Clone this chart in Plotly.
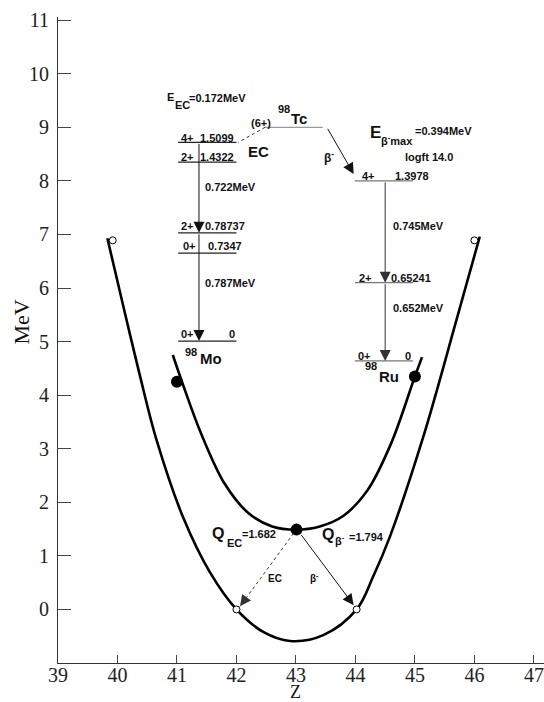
import plotly.graph_objects as go

# ---------------- data ----------------
x_ticks = [39, 40, 41, 42, 43, 44, 45, 46, 47]
y_ticks = [0, 1, 2, 3, 4, 5, 6, 7, 8, 9, 10, 11]

# upper (even-even) mass parabola
upper_x = [40.93, 41.10, 41.40, 41.80, 42.20, 42.60, 43.00, 43.40, 43.80, 44.20, 44.60, 45.00, 45.12]
upper_y = [4.75, 4.20, 3.30, 2.35, 1.80, 1.55, 1.49, 1.55, 1.75, 2.22, 3.10, 4.35, 4.71]
# lower parabola
lower_x = [39.83, 40.10, 40.38, 40.66, 41.11, 41.55, 42.00, 42.45, 42.90, 43.46, 44.02, 44.30, 44.58, 45.14, 45.70, 46.09]
lower_y = [6.93, 5.65, 4.35, 3.15, 1.70, 0.70, 0.00, -0.42, -0.59, -0.48, 0.00, 0.62, 1.36, 3.22, 5.41, 6.96]

# nuclei on the curves
filled_x = [41.0, 43.01, 45.0]
filled_y = [4.25, 1.49, 4.35]
open_x = [39.92, 42.0, 44.02, 46.0]
open_y = [6.89, 0.0, 0.0, 6.89]

# level scheme lines
mo_levels = [8.72, 8.35, 7.03, 6.65, 5.01]
mo_span = [41.02, 42.0]
tc_levels = [9.0]
tc_span = [42.48, 43.45]
ru_levels = [8.00, 6.10, 4.64]
ru_span = [43.99, 44.97]

# arrows: (tail_x, tail_y, tip_x, tip_y, dotted, color)
arrows = [
    (42.48, 9.00, 42.03, 8.72, True, "#333333"),
    (43.52, 9.00, 43.97, 8.13, False, "#111111"),
    (41.37, 8.72, 41.37, 7.03, False, "#111111"),
    (41.37, 7.03, 41.37, 5.01, False, "#111111"),
    (44.50, 8.00, 44.50, 6.10, False, "#333333"),
    (44.50, 6.10, 44.50, 4.64, False, "#333333"),
    (42.96, 1.42, 42.06, 0.06, True, "#333333"),
    (43.07, 1.42, 43.97, 0.08, False, "#111111"),
]

# texts: (x, y, text, size, xanchor)
texts = [
    (40.80, 9.57, "E", 11, "left"),
    (40.93, 9.42, "EC", 11, "left"),
    (41.17, 9.55, "=0.172MeV", 11, "left"),
    (42.61, 9.09, "(6+)", 11, "right"),
    (42.66, 9.34, "98", 11, "left"),
    (42.88, 9.16, "Tc", 15, "left"),
    (41.03, 8.81, "4+", 11, "left"),
    (41.35, 8.81, "1.5099", 11, "left"),
    (41.03, 8.45, "2+", 11, "left"),
    (41.35, 8.45, "1.4322", 11, "left"),
    (42.37, 8.54, "EC", 15, "center"),
    (41.44, 7.88, "0.722MeV", 11, "left"),
    (41.03, 7.15, "2+", 11, "left"),
    (41.44, 7.15, "0.78737", 11, "left"),
    (41.07, 6.78, "0+", 11, "left"),
    (41.49, 6.78, "0.7347", 11, "left"),
    (41.44, 6.10, "0.787MeV", 11, "left"),
    (41.03, 5.14, "0+", 11, "left"),
    (41.92, 5.14, "0", 11, "center"),
    (41.10, 4.81, "98", 11, "left"),
    (41.35, 4.68, "Mo", 15, "left"),
    (43.55, 8.45, "β<sup>-</sup>", 12, "center"),
    (44.21, 8.91, "E", 17, "left"),
    (44.40, 8.76, "β<sup>-</sup>max", 11, "left"),
    (44.97, 8.93, "=0.394MeV", 11, "left"),
    (45.24, 8.45, "logft 14.0", 11, "center"),
    (44.08, 8.10, "4+", 11, "left"),
    (44.63, 8.10, "1.3978", 11, "left"),
    (44.60, 7.16, "0.745MeV", 11, "left"),
    (44.03, 6.19, "2+", 11, "left"),
    (44.56, 6.19, "0.65241", 11, "left"),
    (44.60, 5.62, "0.652MeV", 11, "left"),
    (44.01, 4.74, "0+", 11, "left"),
    (44.89, 4.74, "0", 11, "center"),
    (44.13, 4.55, "98", 11, "left"),
    (44.36, 4.35, "Ru", 15, "left"),
    (41.55, 1.42, "Q", 16, "left"),
    (41.81, 1.24, "EC", 11, "left"),
    (42.06, 1.41, "=1.682", 11, "left"),
    (43.40, 1.39, "Q", 16, "left"),
    (43.62, 1.29, "β<sup>-</sup>", 11, "left"),
    (43.86, 1.35, "=1.794", 11, "left"),
    (42.64, 0.58, "EC", 10, "center"),
    (43.32, 0.58, "β<sup>-</sup>", 10, "center"),
]

# ---------------- figure ----------------
fig = go.Figure()

fig.add_trace(go.Scatter(x=upper_x, y=upper_y, mode="lines",
                         line=dict(color="black", width=2.6, shape="spline", smoothing=1.0),
                         hoverinfo="skip"))
fig.add_trace(go.Scatter(x=lower_x, y=lower_y, mode="lines",
                         line=dict(color="black", width=2.6, shape="spline", smoothing=1.0),
                         hoverinfo="skip"))


def add_levels(levels, span, color):
    xs, ys = [], []
    for lv in levels:
        xs += [span[0], span[1], None]
        ys += [lv, lv, None]
    fig.add_trace(go.Scatter(x=xs, y=ys, mode="lines",
                             line=dict(color=color, width=1.2), hoverinfo="skip"))


add_levels(mo_levels, mo_span, "#222222")
add_levels(tc_levels, tc_span, "#999999")
add_levels(ru_levels, ru_span, "#777777")

for (tx, ty, hx, hy, dotted, col) in arrows:
    if dotted:
        fig.add_trace(go.Scatter(x=[tx, hx], y=[ty, hy], mode="lines",
                                 line=dict(color=col, width=1, dash="dot"), hoverinfo="skip"))
        frac = 0.12
        ax = hx + (tx - hx) * frac
        ay = hy + (ty - hy) * frac
    else:
        ax, ay = tx, ty
    fig.add_annotation(x=hx, y=hy, ax=ax, ay=ay, xref="x", yref="y", axref="x", ayref="y",
                       text="", showarrow=True, arrowhead=2, arrowsize=2.2, arrowwidth=1,
                       arrowcolor=col, standoff=0, startstandoff=0)

fig.add_trace(go.Scatter(x=open_x, y=open_y, mode="markers",
                         marker=dict(size=7, color="white", line=dict(color="black", width=1)),
                         hoverinfo="skip"))
fig.add_trace(go.Scatter(x=filled_x, y=filled_y, mode="markers",
                         marker=dict(size=12, color="black"), hoverinfo="skip"))

for (x, y, t, s, xa) in texts:
    fig.add_annotation(x=x, y=y, xref="x", yref="y", text=t, showarrow=False,
                       xanchor=xa, yanchor="middle",
                       font=dict(family="Liberation Sans, Arial, sans-serif", size=s,
                                 color="#111111", weight="bold"))

serif = "Liberation Serif, DejaVu Serif, serif"
# axis titles
fig.add_annotation(x=-0.075, y=0.528, xref="paper", yref="paper", text="MeV", textangle=-90,
                   showarrow=False, xanchor="center", yanchor="middle",
                   font=dict(family=serif, size=22, color="#111111"))
fig.add_annotation(x=43.0, y=-0.045, xref="x", yref="paper", text="Z",
                   showarrow=False, xanchor="center", yanchor="middle",
                   font=dict(family=serif, size=18, color="#111111"))

tick_font = dict(family=serif, size=20, color="#222222")

fig.update_layout(
    width=544, height=702, autosize=False,
    margin=dict(l=58, r=0, t=17, b=39, pad=0),
    paper_bgcolor="white", plot_bgcolor="white",
    showlegend=False,
    xaxis=dict(range=[39, 47.17], tickvals=x_ticks, ticks="inside", ticklen=8, tickwidth=1,
               tickcolor="#444444", showline=True, linecolor="#333333", linewidth=1.2,
               showgrid=False, zeroline=False, tickfont=tick_font, ticklabelstandoff=-6,
               fixedrange=True),
    yaxis=dict(range=[-1, 11.06], tickvals=y_ticks, ticks="inside", ticklen=13, tickwidth=1,
               tickcolor="#444444", showline=True, linecolor="#333333", linewidth=1.2,
               showgrid=False, zeroline=False, tickfont=tick_font, ticklabelstandoff=4,
               fixedrange=True),
)

fig.write_html("out.html")
